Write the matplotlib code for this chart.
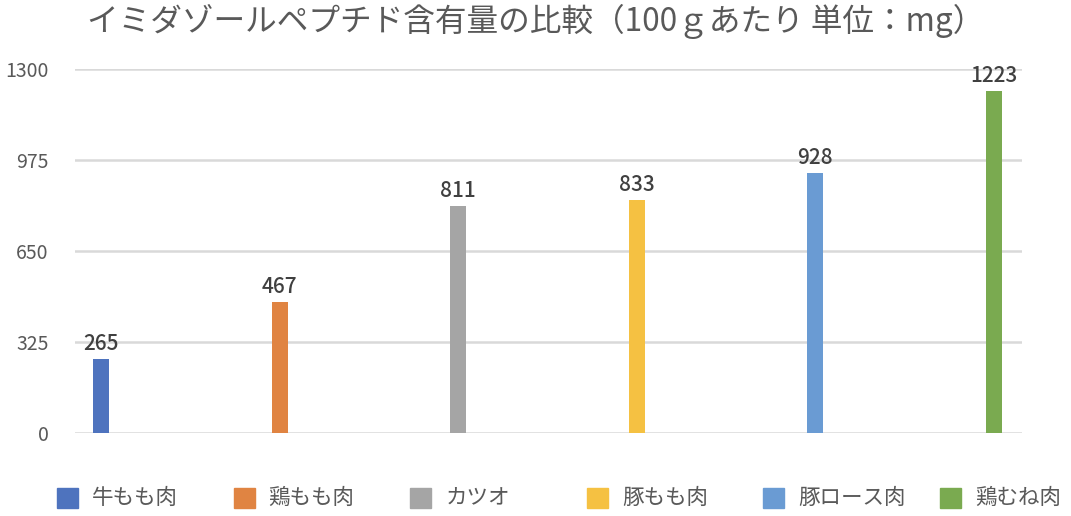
import matplotlib.pyplot as plt
from matplotlib.patches import Rectangle

plt.rcParams['font.family'] = ['Noto Sans CJK JP', 'DejaVu Sans']

foods = ["牛もも肉", "鶏もも肉", "カツオ", "豚もも肉", "豚ロース肉", "鶏むね肉"]
values = [265, 467, 811, 833, 928, 1223]
colors = ["#4E73BE", "#E08442", "#A5A5A5", "#F5C142", "#6A9BD3", "#7AAA50"]
yticks = [0, 325, 650, 975, 1300]

W, H = 1071, 516
fig = plt.figure(figsize=(W / 100, H / 100), dpi=100)
ax = fig.add_axes([0.070, 0.161, 0.884, 0.705])

x = list(range(len(foods)))
ax.bar(x, values, width=0.09, color=colors, zorder=3)
for xi, v in zip(x, values):
    ax.text(xi, v + 14, str(v), ha='center', va='bottom', fontsize=15,
            color='#404040', fontweight='medium', clip_on=False, zorder=4)

ax.set_xlim(-0.146, 5.157)
ax.set_ylim(0, 1300)
ax.set_yticks(yticks)
ax.set_yticklabels([str(t) for t in yticks], fontsize=14, color='#595959')
ax.set_xticks([])
ax.tick_params(axis='y', length=0, pad=19)
ax.grid(axis='y', color='#D9D9D9', linewidth=1.8, zorder=0)
for s in ax.spines.values():
    s.set_visible(False)

fig.text(0.5, 0.958, "イミダゾールペプチド含有量の比較（100ｇあたり 単位：mg）",
         ha='center', va='center', fontsize=22.8, color='#595959')

# legend: equal pitch like the Excel original
for i, (name, c) in enumerate(zip(foods, colors)):
    left = 57 + i * 176.6
    fig.patches.append(Rectangle((left / W, 1 - 508 / H), 21 / W, 20 / H,
                                 transform=fig.transFigure, color=c))
    fig.text((left + 35) / W, 1 - 498 / H, name, ha='left', va='center',
             fontsize=15.5, color='#595959')

fig.savefig('out.png', dpi=100)
